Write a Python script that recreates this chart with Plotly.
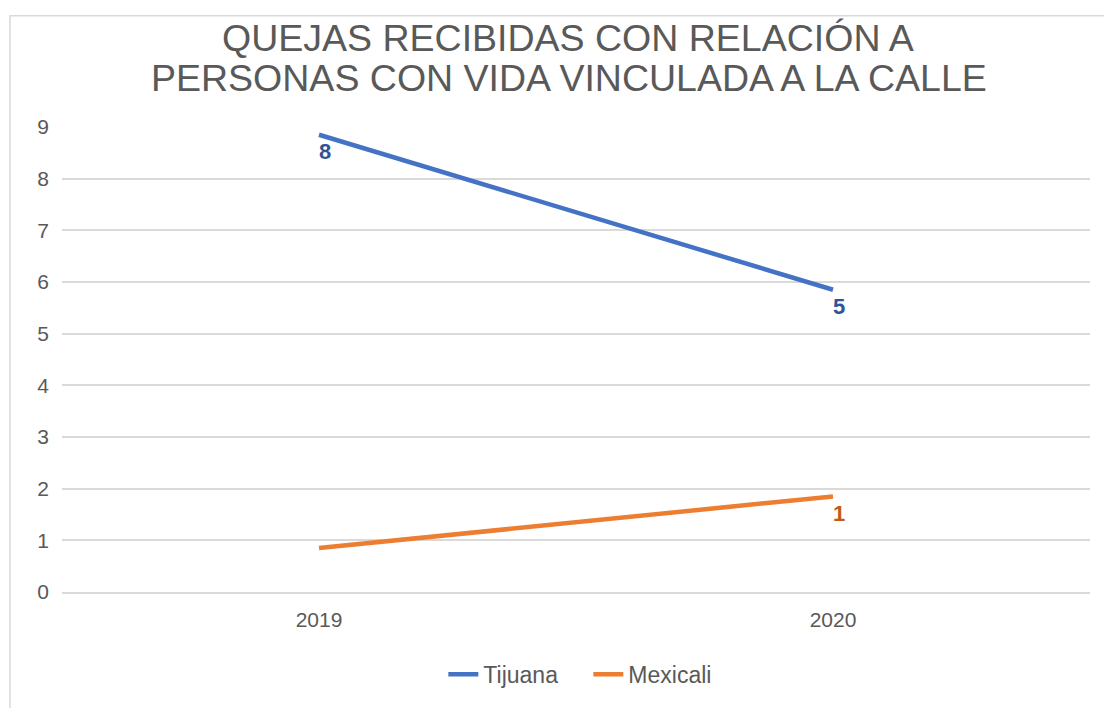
import plotly.graph_objects as go

years = ["2019", "2020"]
tijuana = [8.85, 5.85]
mexicali = [0.85, 1.85]
tijuana_labels = ["8", "5"]
mexicali_labels = ["", "1"]
y_ticks = list(range(0, 10))

title_lines = ["QUEJAS RECIBIDAS CON RELACIÓN A",
               "PERSONAS CON VIDA VINCULADA A LA CALLE"]

series = [
    ("Tijuana", tijuana, tijuana_labels, "#4472C4", "#2F5597"),
    ("Mexicali", mexicali, mexicali_labels, "#ED7D31", "#C55A11"),
]

fig = go.Figure()
annotations = []
for name, vals, labels, color, lcolor in series:
    fig.add_trace(go.Scatter(
        x=years, y=vals, name=name, mode="lines",
        line=dict(color=color, width=4.5),
    ))
    for i, (yv, lab) in enumerate(zip(vals, labels)):
        if lab:
            annotations.append(dict(
                x=i, y=yv, xref="x", yref="y", text="<b>%s</b>" % lab,
                showarrow=False, xanchor="center", yanchor="middle",
                xshift=6, yshift=-17,
                font=dict(color=lcolor, size=22, family="Liberation Sans"),
            ))

annotations += [
    dict(text=title_lines[0], xref="paper", yref="paper", x=0.492, y=1.192,
         xanchor="center", yanchor="middle", showarrow=False,
         font=dict(size=37.5, color="#595959")),
    dict(text=title_lines[1], xref="paper", yref="paper", x=0.493, y=1.105,
         xanchor="center", yanchor="middle", showarrow=False,
         font=dict(size=37.5, color="#595959")),
]

fig.update_layout(
    width=1104, height=700,
    margin=dict(l=54, r=22, t=119, b=108),
    paper_bgcolor="white", plot_bgcolor="white",
    font=dict(family="Liberation Sans", color="#595959", size=21),
    xaxis=dict(type="category", range=[-0.5, 1.5], showgrid=False, showline=True,
               linecolor="#d9d9d9", linewidth=1.5, ticks="",
               tickfont=dict(size=21, color="#595959"), ticklabelstandoff=8),
    yaxis=dict(range=[0, 9], tickvals=y_ticks, showgrid=True, gridcolor="#d9d9d9",
               gridwidth=1.5, zeroline=False, showline=False, ticks="",
               tickfont=dict(size=21, color="#595959"), ticklabelstandoff=12),
    legend=dict(orientation="h", x=0.512, xanchor="center", y=-0.177, yanchor="middle",
                entrywidth=100, entrywidthmode="pixels",
                font=dict(size=23, color="#595959")),
    showlegend=True,
    annotations=annotations,
    shapes=[dict(type="rect", xref="paper", yref="paper",
                 x0=-0.0506, x1=1.1, y0=-0.5, y1=1.239,
                 line=dict(color="#d9d9d9", width=1.5), layer="below")],
)

fig.write_html("out.html")
